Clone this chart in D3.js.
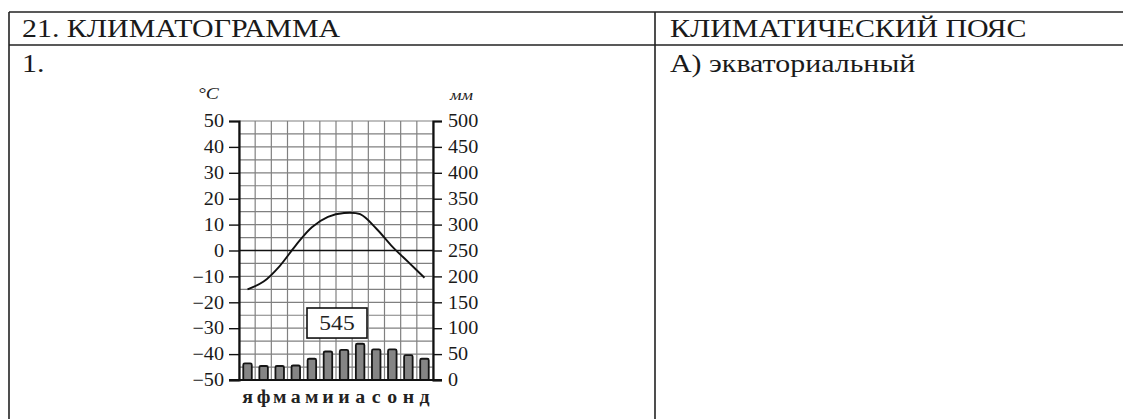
<!DOCTYPE html>
<html>
<head>
<meta charset="utf-8">
<script src="https://cdn.jsdelivr.net/npm/d3@7"></script>
<style>
  body { margin: 0; background: #fff; }
</style>
</head>
<body>
<div id="chart"></div>
<script>
// Data
const months = ["я", "ф", "м", "а", "м", "и", "и", "а", "с", "о", "н", "д"];
const temperature = [-15, -12, -6, 2, 9, 13, 14.5, 14, 8.5, 1.5, -4.5, -10.5];
const precipitation = [32, 27, 27, 28, 41, 55, 58, 70, 59, 59, 48, 41];
const tempTicks = [50, 40, 30, 20, 10, 0, -10, -20, -30, -40, -50];
const precTicks = [500, 450, 400, 350, 300, 250, 200, 150, 100, 50, 0];
const annualTotal = 545;

// Table texts
const headerLeft = "21. КЛИМАТОГРАММА";
const headerRight = "КЛИМАТИЧЕСКИЙ ПОЯС";
const rowLeft = "1.";
const rowRight = "А) экваториальный";

const W = 1123, H = 419;
const FONT = "Liberation Serif";
const plot = {left: 239, right: 433, top: 121, bottom: 380};

// the scan is a little wider than plain Times, so stretch text horizontally
const stretch = (sel, k) => sel.each(function() {
  const w = this.getComputedTextLength();
  d3.select(this).attr("textLength", w * k).attr("lengthAdjust", "spacingAndGlyphs");
});

const svg = d3.select("#chart")
  .append("svg")
    .attr("width", W)
    .attr("height", H)
    .attr("font-family", FONT)
    .style("display", "block");

// Table frame
const table = svg.append("g").attr("stroke", "#222").attr("stroke-width", 1.6);
table.append("line").attr("x1", 9).attr("x2", W).attr("y1", 12).attr("y2", 12);
table.append("line").attr("x1", 9).attr("x2", W).attr("y1", 45).attr("y2", 45);
table.append("line").attr("x1", 9).attr("x2", 9).attr("y1", 12).attr("y2", H);
table.append("line").attr("x1", 655).attr("x2", 655).attr("y1", 12).attr("y2", H);

const cellText = (x, y, t) => svg.append("text")
  .attr("x", x).attr("y", y)
  .attr("font-family", FONT)
  .attr("font-size", 26)
  .attr("fill", "#1a1a1a")
  .text(t)
  .call(stretch, 1.15);
cellText(22, 37, headerLeft);
cellText(670, 37, headerRight);
cellText(22, 72, rowLeft);
cellText(670, 72, rowRight);

// Scales
const yTemp = d3.scaleLinear().domain([-50, 50]).range([plot.bottom, plot.top]);
const yPrec = d3.scaleLinear().domain([0, 500]).range([plot.bottom, plot.top]);
const xBand = d3.scaleBand()
  .domain(d3.range(months.length))
  .range([plot.left, plot.right])
  .paddingInner(0.47)
  .paddingOuter(0.265);
const xGrid = d3.scaleLinear().domain([0, months.length]).range([plot.left, plot.right]);

// Grid
const grid = svg.append("g").attr("stroke", "#808080").attr("stroke-width", 1.2);
grid.selectAll(".v")
  .data(d3.range(0, months.length + 1))
  .join("line")
    .attr("x1", d => xGrid(d)).attr("x2", d => xGrid(d))
    .attr("y1", plot.top).attr("y2", plot.bottom);
grid.selectAll(".h")
  .data(d3.range(-50, 51, 5))
  .join("line")
    .attr("x1", plot.left).attr("x2", plot.right)
    .attr("y1", d => yTemp(d)).attr("y2", d => yTemp(d));

// Zero line
svg.append("line")
  .attr("x1", plot.left).attr("x2", plot.right)
  .attr("y1", yTemp(0)).attr("y2", yTemp(0))
  .attr("stroke", "#111").attr("stroke-width", 1.6);

// Precipitation bars
svg.append("g")
  .selectAll("rect")
  .data(precipitation)
  .join("rect")
    .attr("x", (d, i) => xBand(i))
    .attr("width", xBand.bandwidth())
    .attr("y", d => yPrec(d))
    .attr("height", d => yPrec(0) - yPrec(d))
    .attr("rx", 1.5)
    .attr("fill", "#858585")
    .attr("stroke", "#151515")
    .attr("stroke-width", 1.8);

// Temperature curve
const line = d3.line()
  .x((d, i) => xBand(i) + xBand.bandwidth() / 2)
  .y(d => yTemp(d))
  .curve(d3.curveCatmullRom.alpha(0.5));
svg.append("path")
  .datum(temperature)
  .attr("d", line)
  .attr("fill", "none")
  .attr("stroke", "#111")
  .attr("stroke-width", 1.9);

// Axes
const leftAxis = svg.append("g")
  .attr("transform", `translate(${plot.left},0)`)
  .call(d3.axisLeft(yTemp).tickValues(tempTicks).tickSize(10).tickPadding(5));
const rightAxis = svg.append("g")
  .attr("transform", `translate(${plot.right},0)`)
  .call(d3.axisRight(yPrec).tickValues(precTicks).tickSize(9).tickPadding(6));
[leftAxis, rightAxis].forEach(a => {
  a.attr("font-family", FONT).attr("font-size", 18);
  a.select(".domain").attr("stroke", "#111").attr("stroke-width", 2.2);
  a.selectAll(".tick line").attr("stroke", "#111").attr("stroke-width", 1.4);
  a.selectAll(".tick text").attr("fill", "#1a1a1a").call(stretch, 1.12);
});

// Bottom line of the plot
svg.append("line")
  .attr("x1", plot.left - 10).attr("x2", plot.right + 9)
  .attr("y1", plot.bottom).attr("y2", plot.bottom)
  .attr("stroke", "#111").attr("stroke-width", 2);

// Units
svg.append("text")
  .attr("x", 198).attr("y", 99)
  .attr("font-size", 17).attr("font-style", "italic")
  .attr("fill", "#222")
  .text("°C")
  .call(stretch, 1.15);
svg.append("text")
  .attr("x", 450).attr("y", 100)
  .attr("font-size", 15).attr("font-style", "italic")
  .attr("fill", "#222")
  .text("мм")
  .call(stretch, 1.2);

// Annual total box
const box = svg.append("g");
box.append("rect")
  .attr("x", 307).attr("y", yPrec(139))
  .attr("width", 60).attr("height", yPrec(81) - yPrec(139))
  .attr("fill", "#fff")
  .attr("stroke", "#111").attr("stroke-width", 1.6);
box.append("text")
  .attr("x", 337).attr("y", yPrec(110) + 7)
  .attr("text-anchor", "middle")
  .attr("font-size", 21)
  .attr("fill", "#222")
  .text(annualTotal)
  .call(stretch, 1.12);

// Month labels
svg.append("g")
  .selectAll("text")
  .data(months)
  .join("text")
    .attr("x", (d, i) => xBand(i) + xBand.bandwidth() / 2)
    .attr("y", 403)
    .attr("text-anchor", "middle")
    .attr("font-size", 18)
    .attr("font-weight", "bold")
    .attr("fill", "#222")
    .text(d => d)
    .call(stretch, 1.1);
</script>
</body>
</html>
